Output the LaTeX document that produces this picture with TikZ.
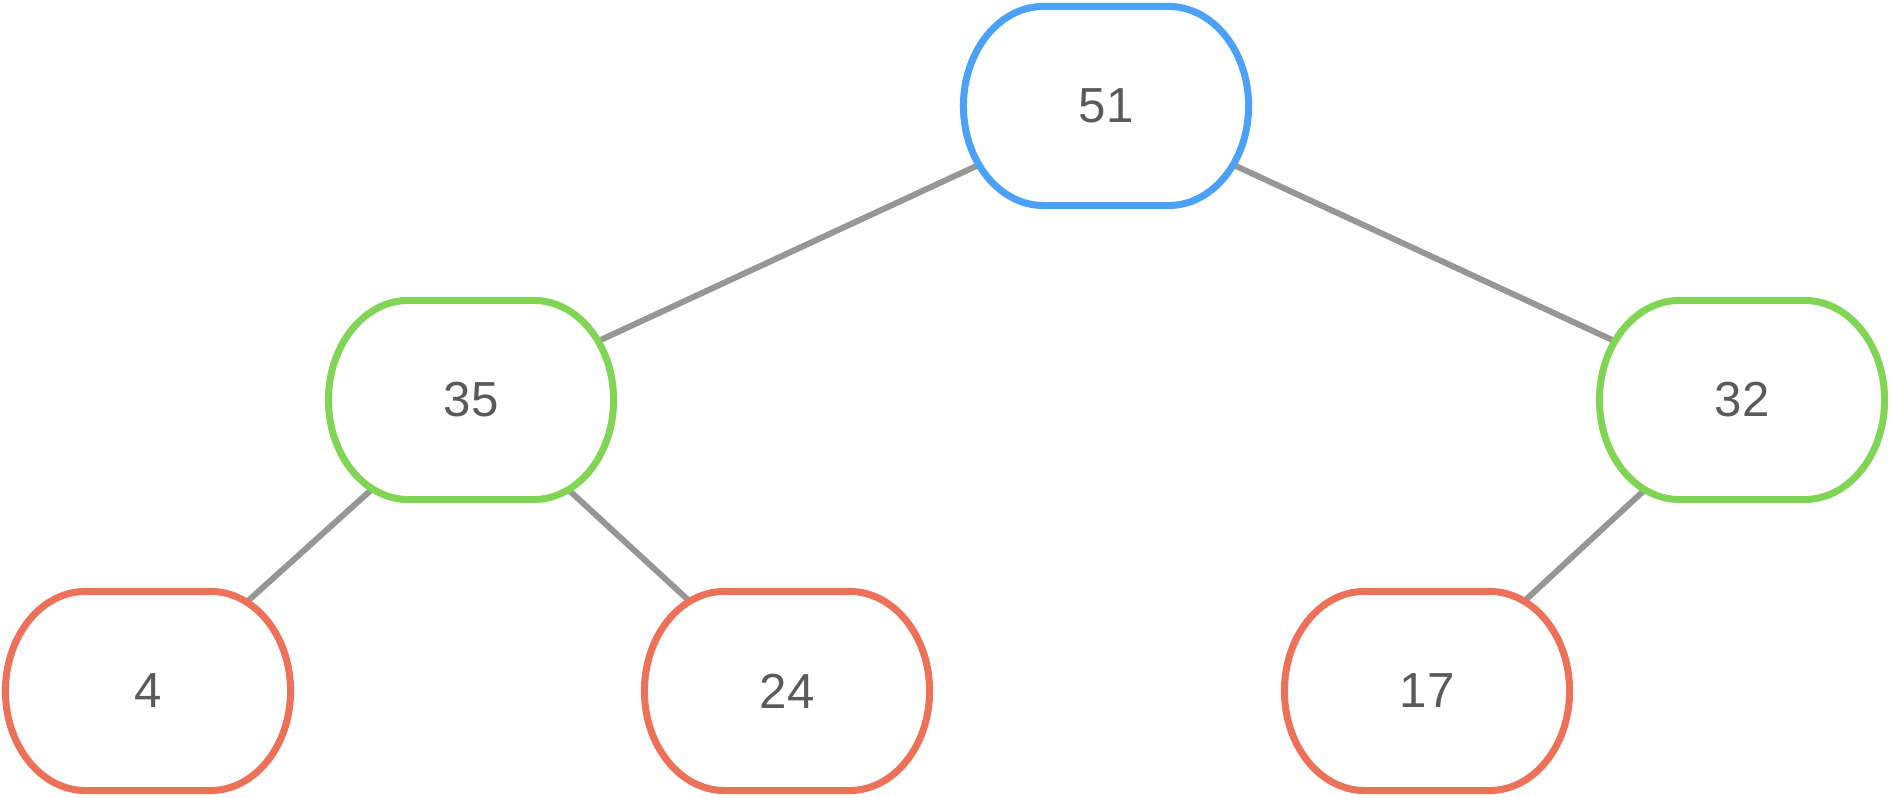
\documentclass[tikz,border=0pt]{standalone}
\usepackage{fontspec}
\setmainfont{Liberation Sans}
\usetikzlibrary{calc}
\pgfdeclarelayer{bg}
\pgfdeclarelayer{mid}
\pgfsetlayers{bg,mid,main}
\definecolor{nblue}{RGB}{74,161,247}
\definecolor{ngreen}{RGB}{128,214,84}
\definecolor{nred}{RGB}{237,112,88}
\definecolor{edgegray}{RGB}{150,150,150}
\definecolor{txtgray}{RGB}{90,90,90}
\tikzset{
  keynode/.style={inner sep=0pt, minimum width=2.85cm, minimum height=1.99cm,
    font=\fontsize{14}{16}\selectfont, text=txtgray},
  treeedge/.style={draw=edgegray, line width=1.7pt},
  keyoutline/.style={line width=2pt, fill=white}
}
\newcommand\keyshape[2]{%
  \begin{pgfonlayer}{mid}
  \draw[keyoutline, draw=#2] ($(#1.center)+(-0.625cm,0.995cm)$) -- ++(1.25cm,0)
    arc[start angle=90,end angle=-90,x radius=0.8cm,y radius=0.995cm]
    -- ++(-1.25cm,0)
    arc[start angle=270,end angle=90,x radius=0.8cm,y radius=0.995cm] -- cycle;
  \end{pgfonlayer}}
\begin{document}
\begin{tikzpicture}[x=0.01cm,y=0.01cm]
\useasboundingbox (0,0) rectangle (1892,798);
\node[keynode] (n51) at (1106,692) {51};
\node[keynode] (n35) at (471,398) {35};
\node[keynode] (n32) at (1742,398) {32};
\node[keynode] (n4)  at (148,107) {4};
\node[keynode] (n24) at (787,107) {24};
\node[keynode] (n17) at (1427,107) {17};
\keyshape{n51}{nblue}
\keyshape{n35}{ngreen}
\keyshape{n32}{ngreen}
\keyshape{n4}{nred}
\keyshape{n24}{nred}
\keyshape{n17}{nred}
\begin{pgfonlayer}{bg}
\draw[treeedge] (n51.center) -- (n35.center);
\draw[treeedge] (n51.center) -- (n32.center);
\draw[treeedge] (n35.center) -- (n4.center);
\draw[treeedge] (n35.center) -- (n24.center);
\draw[treeedge] (n32.center) -- (n17.center);
\end{pgfonlayer}
\end{tikzpicture}
\end{document}
